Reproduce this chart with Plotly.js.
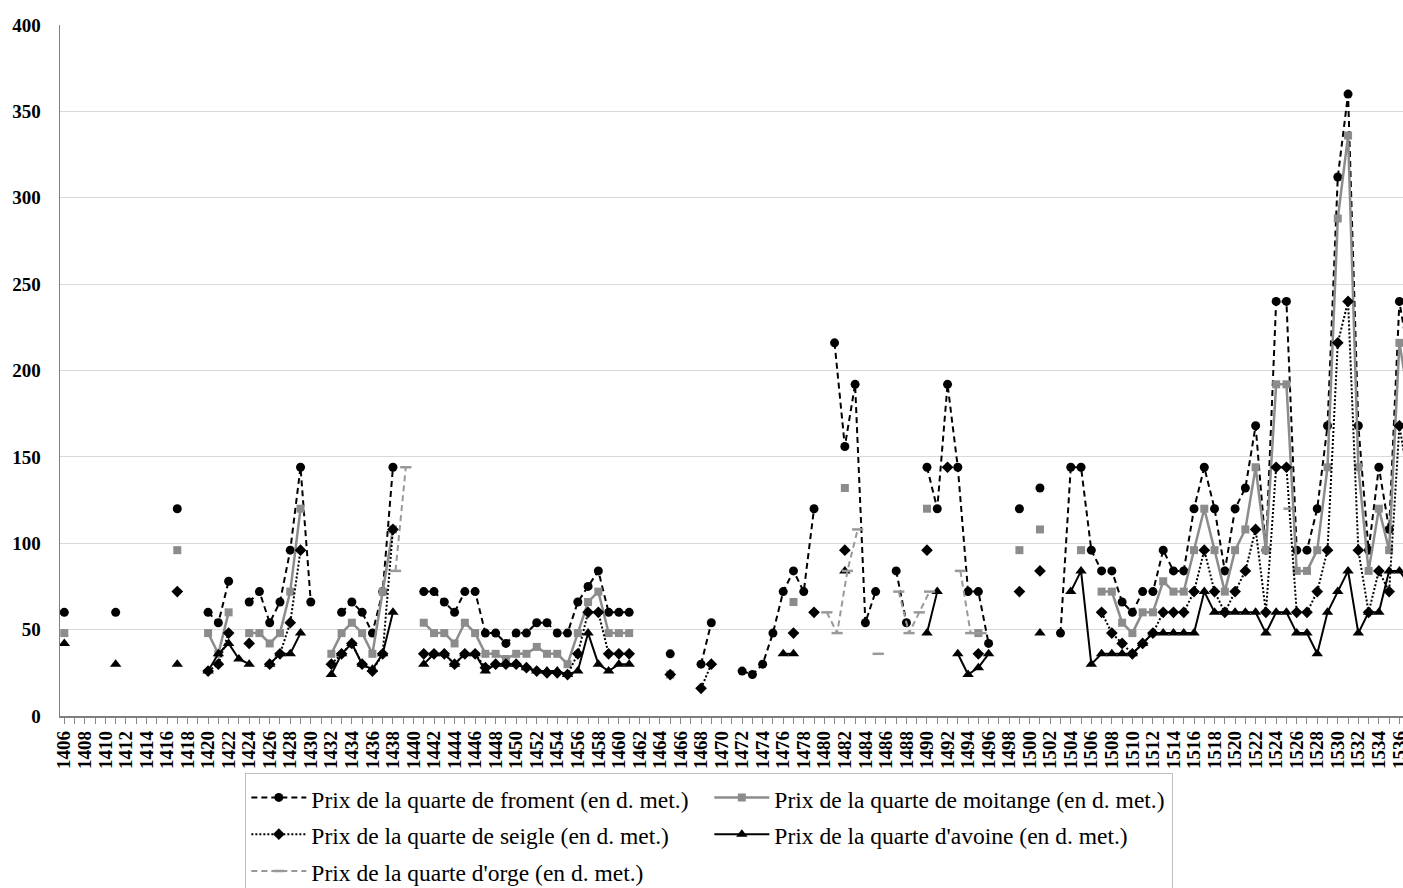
<!DOCTYPE html>
<html><head><meta charset="utf-8">
<script src="https://cdn.plot.ly/plotly-3.0.1.min.js"></script>
<style>html,body{margin:0;padding:0;background:#fff;overflow:hidden}#chart{width:1403px;height:888px}</style>
</head><body><div id="chart"></div>
<script>
// Each series: list of [first year, consecutive values]
const froment = [
  [1406,[60]],[1411,[60]],[1417,[120]],[1420,[60,54,78]],
  [1424,[66,72,54,66,96,144,66]],[1433,[60,66,60,48,72,144]],
  [1441,[72,72,66,60,72,72,48,48,42,48,48,54,54,48,48,66,75,84,60,60,60]],
  [1465,[36]],[1468,[30,54]],[1472,[26,24,30,48,72,84,72,120]],
  [1481,[216,156,192,54,72]],[1487,[84,54]],[1490,[144,120,192,144,72,72,42]],
  [1499,[120]],[1501,[132]],
  [1503,[48,144,144,96,84,84,66,60,72,72,96,84,84,120,144,120,84,120,132,168,96,240,240,96,96,120,168,312,360,168,96,144,108,240,204]]
];
const moitange = [
  [1406,[48]],[1417,[96]],[1420,[48,36,60]],[1424,[48,48,42,48,72,120]],
  [1432,[36,48,54,48,36,72,108]],
  [1441,[54,48,48,42,54,48,36,36,33,36,36,40,36,36,30,48,66,72,48,48,48]],
  [1465,[24]],[1477,[66]],[1482,[132]],[1490,[120]],[1495,[48]],
  [1499,[96]],[1501,[108]],[1505,[96]],
  [1507,[72,72,54,48,60,60,78,72,72,96,120,96,72,96,108,144,96,192,192,84,84,96,144,288,336,144,84,120,96,216,180]]
];
const seigle = [
  [1417,[72]],[1420,[26,30,48]],[1424,[42]],[1426,[30,36,54,96]],
  [1432,[30,36,42,30,26,36,108]],
  [1441,[36,36,36,30,36,36,28,30,30,30,28,26,25,25,24,36,60,60,36,36,36]],
  [1465,[24]],[1468,[16,30]],[1477,[48]],[1479,[60]],[1482,[96]],
  [1490,[96]],[1492,[144]],[1495,[36]],[1499,[72]],[1501,[84]],
  [1507,[60,48,42,36,42,48,60,60,60,72,96,72,60,72,84,108,60,144,144,60,60,72,96,216,240,96,60,84,72,168,132]]
];
const avoine = [
  [1406,[42]],[1411,[30]],[1417,[30]],[1420,[26,36,42,33,30]],[1426,[30,36,36,48]],
  [1432,[24,36,42,30,27,36,60]],
  [1441,[30,36,36,30,36,36,26,30,30,30,28,26,26,26,24,26,48,30,26,30,30]],
  [1476,[36,36]],[1482,[84]],[1490,[48,72]],[1493,[36,24,28,36]],[1501,[48]],
  [1504,[72,84,30,36,36,36,36,42,48,48,48,48,48,72,60,60,60,60,60,48,60,60,48,48,36,60,72,84,48,60,60,84,84,76]]
];
const orge = [
  [1438,[84,144]],[1480,[60,48,84,108]],[1485,[36]],[1487,[72,48,60,72]],
  [1493,[84,48,48]],[1525,[120]]
];
const seriesNames = [
  'Prix de la quarte de froment (en d. met.)',
  'Prix de la quarte de moitange (en d. met.)',
  'Prix de la quarte de seigle (en d. met.)',
  "Prix de la quarte d'avoine (en d. met.)",
  "Prix de la quarte d'orge (en d. met.)"
];
const firstYear = 1406;

function expand(segs){
  const x=[], y=[];
  segs.forEach((s,i)=>{
    if(i>0){ x.push(s[0]-0.5); y.push(null); }
    s[1].forEach((v,j)=>{ x.push(s[0]+j); y.push(v); });
  });
  return {x, y};
}
const lbl = t => '<span style="font-size:23.5px">'+t+'</span>';

const fr = expand(froment), mo = expand(moitange), se = expand(seigle), av = expand(avoine), og = expand(orge);
const traces = [
  {x:fr.x, y:fr.y, name:lbl(seriesNames[0]), mode:'lines+markers', connectgaps:false,
   line:{color:'#000', width:2, dash:'6px,4px'}, marker:{symbol:'circle', size:9, color:'#000'}},
  {x:mo.x, y:mo.y, name:lbl(seriesNames[1]), mode:'lines+markers', connectgaps:false,
   line:{color:'#8c8c8c', width:2.5}, marker:{symbol:'square', size:8, color:'#8c8c8c'}},
  {x:se.x, y:se.y, name:lbl(seriesNames[2]), mode:'lines+markers', connectgaps:false,
   line:{color:'#000', width:2, dash:'2px,2px'}, marker:{symbol:'diamond', size:9, color:'#000'}},
  {x:av.x, y:av.y, name:lbl(seriesNames[3]), mode:'lines+markers', connectgaps:false,
   line:{color:'#000', width:2}, marker:{symbol:'triangle-up', size:10, color:'#000'}},
  {x:og.x, y:og.y, name:lbl(seriesNames[4]), mode:'lines+markers', connectgaps:false, xaxis:'x2',
   line:{color:'#999', width:2, dash:'6px,4px'}, marker:{symbol:'line-ew', size:8, color:'#999', line:{color:'#999', width:2.5}}}
];

const xr = [1405.58, 1536.35];
const tickFont = {family:'Liberation Serif, Times New Roman, serif', size:19, color:'#000', weight:'bold'};
const layout = {
  width:1403, height:888,
  margin:{l:60, r:0, t:25, b:172, autoexpand:false},
  paper_bgcolor:'#fff', plot_bgcolor:'#fff',
  showlegend:true,
  xaxis:{
    range:xr, tickmode:'linear', tick0:firstYear, dtick:2,
    tickangle:-90, tickfont:tickFont, ticks:'outside', ticklen:6, tickcolor:'#888',
    ticklabeloverflow:'allow',
    minor:{dtick:1, tick0:firstYear, ticks:'outside', ticklen:6, tickcolor:'#888', showgrid:false},
    showgrid:false, zeroline:false, showline:true, linecolor:'#7f7f7f', linewidth:1.5,
    automargin:false
  },
  xaxis2:{range:[xr[0]-0.25, xr[1]-0.25], overlaying:'x', visible:false},
  yaxis:{
    range:[0,400], dtick:50, tickfont:tickFont, ticks:'', ticklabelstandoff:14,
    showgrid:true, gridcolor:'#d9d9d9', gridwidth:1, zeroline:false,
    showline:true, linecolor:'#7f7f7f', linewidth:1.5, automargin:false
  },
  legend:{
    orientation:'h', x:0.138, xanchor:'left', y:-0.0825, yanchor:'top',
    entrywidth:393, entrywidthmode:'pixels', itemwidth:55,
    font:{family:'Liberation Serif, Times New Roman, serif', size:26, color:'#000'},
    bordercolor:'#bfbfbf', borderwidth:1, bgcolor:'#fff',
    traceorder:'normal', itemclick:false, itemdoubleclick:false
  }
};
Plotly.newPlot('chart', traces, layout, {displayModeBar:false, staticPlot:true});
</script></body></html>
